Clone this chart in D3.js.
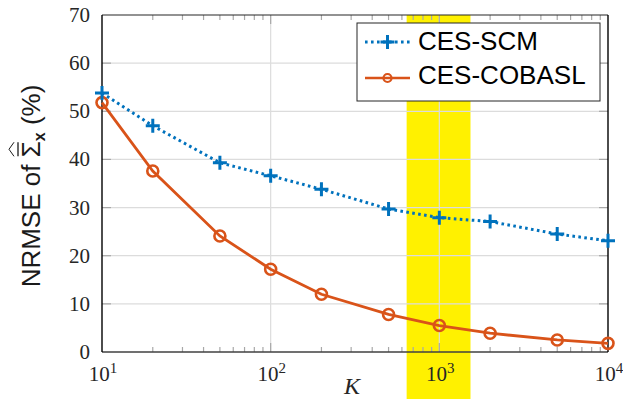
<!DOCTYPE html>
<html><head><meta charset="utf-8">
<script src="https://cdn.jsdelivr.net/npm/d3@7"></script>
<style>body{margin:0;background:#fff}svg{display:block}</style>
</head><body>
<svg id="c" width="623" height="399"></svg>
<script>
const kValues = [10, 20, 50, 100, 200, 500, 1000, 2000, 5000, 10000];
const scmValues = [53.8, 47.0, 39.3, 36.6, 33.8, 29.7, 27.9, 27.1, 24.5, 23.1];
const cobaslValues = [51.8, 37.6, 24.1, 17.2, 12.0, 7.8, 5.5, 3.9, 2.5, 1.8];
const seriesNames = ["CES-SCM", "CES-COBASL"];
const yTicks = [0, 10, 20, 30, 40, 50, 60, 70];
const xMajorTicks = [10, 100, 1000, 10000];
const xTickExponents = ["1", "2", "3", "4"];
const highlightBand = [640, 1530];

const svg = d3.select("#c");
const L = 102, R = 608, T = 15, B = 352;
const x = d3.scaleLog().domain([10, 10000]).range([L, R]);
const y = d3.scaleLinear().domain([0, 70]).range([B, T]);
const blue = "#0072BD", orange = "#D95319";

// highlight band
svg.append("rect")
  .attr("x", x(highlightBand[0])).attr("y", T)
  .attr("width", x(highlightBand[1]) - x(highlightBand[0]))
  .attr("height", 399 - T).attr("fill", "#fff100");

// grid
const grid = svg.append("g").attr("stroke", "#dcdcdc").attr("stroke-width", 1.2);
yTicks.filter(v => v > 0 && v < 70).forEach(v => {
  grid.append("line").attr("x1", L).attr("x2", R).attr("y1", y(v)).attr("y2", y(v));
});
xMajorTicks.filter(v => v > 10 && v < 10000).forEach(v => {
  grid.append("line").attr("x1", x(v)).attr("x2", x(v)).attr("y1", T).attr("y2", B);
});

// ticks
const ticks = svg.append("g").attr("stroke", "#a8a8a8").attr("stroke-width", 1.2);
yTicks.filter(v => v > 0 && v < 70).forEach(v => {
  ticks.append("line").attr("x1", L).attr("x2", L + 9).attr("y1", y(v)).attr("y2", y(v));
  ticks.append("line").attr("x1", R - 9).attr("x2", R).attr("y1", y(v)).attr("y2", y(v));
});
const minor = x.ticks().filter(v => xMajorTicks.indexOf(v) < 0);
minor.forEach(v => {
  ticks.append("line").attr("x1", x(v)).attr("x2", x(v)).attr("y1", B).attr("y2", B - 5);
  ticks.append("line").attr("x1", x(v)).attr("x2", x(v)).attr("y1", T).attr("y2", T + 5);
});
xMajorTicks.filter(v => v > 10 && v < 10000).forEach(v => {
  ticks.append("line").attr("x1", x(v)).attr("x2", x(v)).attr("y1", B).attr("y2", B - 9);
  ticks.append("line").attr("x1", x(v)).attr("x2", x(v)).attr("y1", T).attr("y2", T + 9);
});

// box
svg.append("line").attr("x1", L).attr("x2", R).attr("y1", T).attr("y2", T).attr("stroke", "#262626").attr("stroke-width", 1.2);
svg.append("line").attr("x1", L).attr("x2", R).attr("y1", B).attr("y2", B).attr("stroke", "#404040").attr("stroke-width", 1.4);
svg.append("line").attr("x1", L).attr("x2", L).attr("y1", T).attr("y2", B).attr("stroke", "#000").attr("stroke-width", 1.4);
svg.append("line").attr("x1", R).attr("x2", R).attr("y1", T).attr("y2", B).attr("stroke", "#000").attr("stroke-width", 1.4);

// tick labels
const serif = "'Liberation Serif','DejaVu Serif',serif";
yTicks.forEach(v => {
  svg.append("text").attr("x", 90).attr("y", y(v) + 7).attr("text-anchor", "end")
    .attr("font-family", serif).attr("font-size", 21).attr("fill", "#262626").text(v);
});
xMajorTicks.forEach((v, i) => {
  const t = svg.append("text").attr("x", x(v) + 1).attr("y", 381).attr("text-anchor", "middle")
    .attr("font-family", serif).attr("font-size", 21).attr("fill", "#262626");
  t.append("tspan").text("10");
  t.append("tspan").attr("dy", -8).attr("font-size", 15).text(xTickExponents[i]);
});

// axis labels
svg.append("text").attr("x", 352).attr("y", 394).attr("text-anchor", "middle")
  .attr("font-family", serif).attr("font-style", "italic").attr("font-size", 24).attr("fill", "#262626").text("K");

const sans = "'Liberation Sans',Arial,sans-serif";
const yl = svg.append("g").attr("transform", "translate(40,186) rotate(-90)");
const ylt = yl.append("text").attr("text-anchor", "middle").attr("font-family", sans)
  .attr("font-size", 26).attr("fill", "#1a1a1a");
ylt.append("tspan").text("NRMSE of ");
ylt.append("tspan").text("\u03A3");
ylt.append("tspan").attr("font-size", 16).attr("font-weight", "bold").attr("dy", 5).text("x");
ylt.append("tspan").attr("dy", -5).text(" (%)");
try {
  const ext = ylt.node().getExtentOfChar(9);
  const x0 = ext.x + 1, x1 = ext.x + ext.width - 1;
  yl.append("line").attr("x1", x0).attr("x2", x1).attr("y1", -22).attr("y2", -22)
    .attr("stroke", "#1a1a1a").attr("stroke-width", 1.3);
  yl.append("path").attr("d", `M${x0},-26 L${(x0 + x1) / 2},-31 L${x1},-26`)
    .attr("fill", "none").attr("stroke", "#1a1a1a").attr("stroke-width", 1);
} catch (e) {}

// series
const line = d3.line().x(d => x(d[0])).y(d => y(d[1]));
const scm = kValues.map((k, i) => [k, scmValues[i]]);
const cob = kValues.map((k, i) => [k, cobaslValues[i]]);

svg.append("path").attr("d", line(cob)).attr("fill", "none").attr("stroke", orange).attr("stroke-width", 2.8);
svg.selectAll("circle.c").data(cob).join("circle").attr("class", "c")
  .attr("cx", d => x(d[0])).attr("cy", d => y(d[1])).attr("r", 5.5)
  .attr("fill", "none").attr("stroke", orange).attr("stroke-width", 2.6);

svg.append("path").attr("d", line(scm)).attr("fill", "none").attr("stroke", blue)
  .attr("stroke-width", 3).attr("stroke-dasharray", "2.6,3.4");
const plus = (g, cx, cy, s, w) => {
  g.append("path").attr("d", `M${cx - s},${cy}H${cx + s}M${cx},${cy - s}V${cy + s}`)
    .attr("stroke", blue).attr("stroke-width", w).attr("fill", "none");
};
const pg = svg.append("g");
scm.forEach(d => plus(pg, x(d[0]), y(d[1]), 7, 3));

// legend
const lg = svg.append("g");
lg.append("rect").attr("x", 357).attr("y", 23).attr("width", 243).attr("height", 78)
  .attr("fill", "#fff").attr("stroke", "#262626").attr("stroke-width", 1);
const ly = [42, 78];
lg.append("line").attr("x1", 365).attr("x2", 410).attr("y1", ly[0]).attr("y2", ly[0])
  .attr("stroke", blue).attr("stroke-width", 3).attr("stroke-dasharray", "2.6,3.4");
plus(lg, 387.5, ly[0], 7, 3);
lg.append("line").attr("x1", 365).attr("x2", 410).attr("y1", ly[1]).attr("y2", ly[1])
  .attr("stroke", orange).attr("stroke-width", 2.6);
lg.append("circle").attr("cx", 387.5).attr("cy", ly[1]).attr("r", 4).attr("fill", "none")
  .attr("stroke", orange).attr("stroke-width", 2.2);
seriesNames.forEach((n, i) => {
  lg.append("text").attr("x", 418).attr("y", [50, 84][i]).attr("font-family", sans)
    .attr("font-size", 26).attr("fill", "#000").text(n);
});
</script>
</body></html>
